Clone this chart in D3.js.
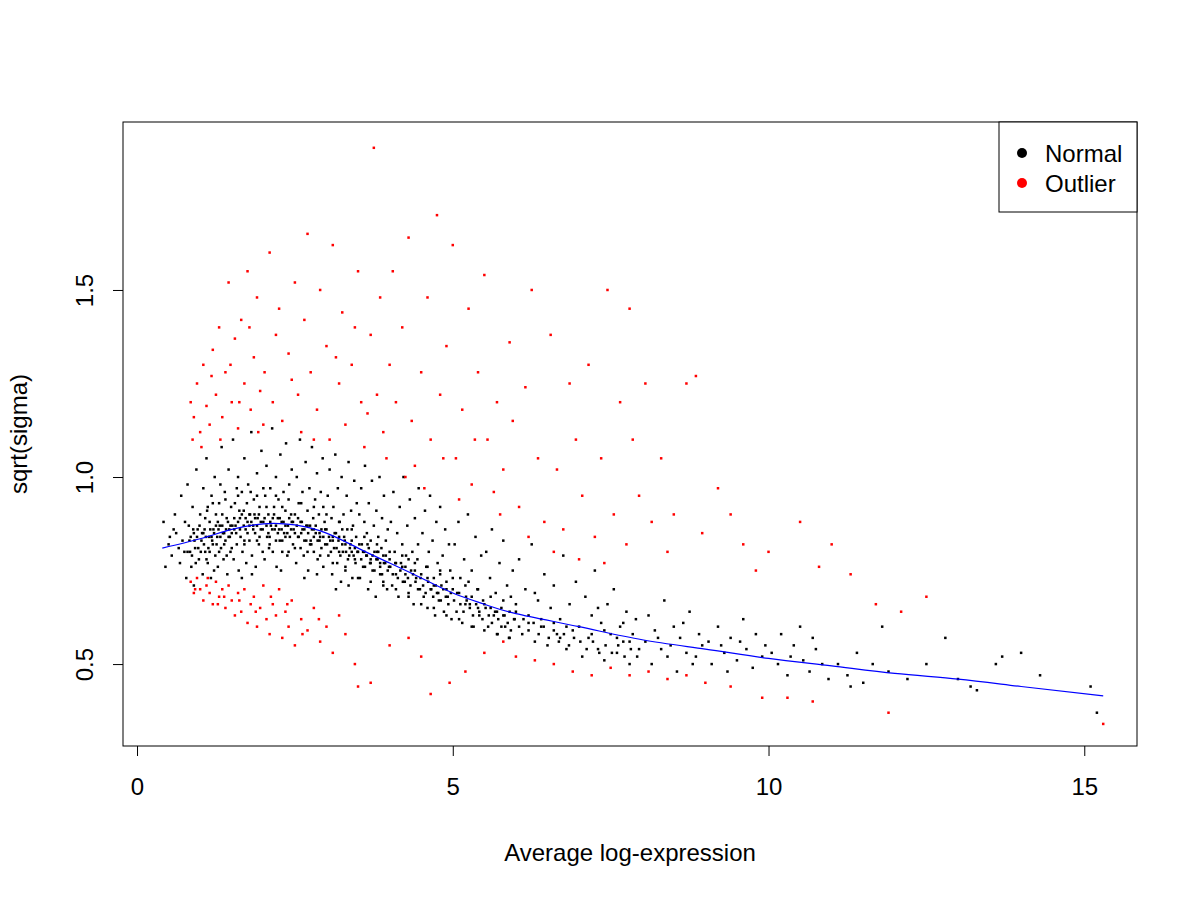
<!DOCTYPE html><html><head><meta charset="utf-8">
<script src="https://cdn.jsdelivr.net/npm/d3@7"></script>
<style>body{margin:0;background:#fff}text{font-family:"Liberation Sans",Arial,sans-serif}</style></head><body>
<svg id="c" width="1200" height="900"></svg>
<script>
const xTicks=[0,5,10,15];
const yTicks=[0.5,1.0,1.5];
const yTickLabels=["0.5","1.0","1.5"];
const legendLabels=["Normal","Outlier"];
const legendColors=["#000","#ff0000"];
const trend=[[0.4,0.81],[1,0.835],[1.5,0.86],[2,0.875],[2.5,0.872],[3,0.85],[3.5,0.81],[4,0.77],[4.5,0.73],[5,0.69],[5.5,0.66],[6,0.635],[7,0.6],[8,0.565],[9,0.54],[10,0.515],[11,0.495],[12,0.475],[13,0.46],[14,0.44],[15.3,0.415]];
const normalStr="0.42 0.88,0.45 0.76,0.5 0.82,0.55 0.79,0.6 0.9,0.62 0.85,0.68 0.77,0.7 0.95,0.72 0.83,0.75 0.8,0.78 0.73,0.8 0.98,0.82 0.87,0.85 0.84,0.86 0.76,0.88 0.92,0.9 0.71,0.92 0.81,0.94 1.02,0.96 0.86,0.98 0.78,1.0 0.9,0.9 0.85,0.84 0.8,0.76 0.88,0.66 0.81,0.58 0.86,0.52 0.84,"+
"1.02 0.83,1.04 0.74,1.05 0.97,1.07 0.86,1.08 0.8,1.1 1.05,1.11 0.91,1.12 0.77,1.14 0.84,1.15 0.88,1.17 0.73,1.18 0.95,1.2 0.82,1.21 0.86,1.23 1.0,1.24 0.79,1.25 0.9,1.27 0.84,1.28 0.76,1.3 0.93,1.31 0.87,1.33 0.81,1.34 1.08,1.36 0.85,1.37 0.78,1.39 0.96,1.4 0.83,1.42 0.89,1.43 0.74,1.45 1.02,1.46 0.86,1.48 0.8,1.49 0.92,1.05 0.85,1.15 0.8,1.25 0.87,1.35 0.9,1.45 0.84,1.12 0.92,1.22 0.75,1.32 0.98,1.42 0.79,1.08 0.89,1.18 0.84,1.28 0.88,1.38 0.82,1.48 0.87,"+
"1.5 0.85,1.52 1.1,1.53 0.78,1.55 0.93,1.56 0.87,1.58 0.82,1.6 1.0,1.61 0.75,1.63 0.89,1.64 0.84,1.66 0.96,1.67 0.8,1.69 0.91,1.7 1.05,1.72 0.86,1.73 0.77,1.75 0.88,1.76 0.98,1.78 0.83,1.79 0.9,1.81 1.12,1.82 0.79,1.84 0.87,1.85 0.94,1.87 0.85,1.88 0.76,1.9 1.01,1.91 0.89,1.93 0.82,1.94 0.92,1.96 0.86,1.97 1.07,1.99 0.8,1.54 0.86,1.62 0.91,1.7 0.83,1.78 0.87,1.86 0.9,1.94 0.84,1.58 0.97,1.74 0.93,1.9 0.95,1.66 0.73,1.82 0.74,"+
"2.0 0.88,2.02 0.78,2.03 0.95,2.05 1.03,2.06 0.84,2.08 0.9,2.09 0.81,2.11 0.97,2.12 0.87,2.14 1.13,2.15 0.8,2.17 0.92,2.18 0.86,2.2 1.0,2.21 0.76,2.23 0.89,2.24 0.94,2.26 0.83,2.27 1.06,2.29 0.88,2.3 0.8,2.32 0.96,2.33 0.85,2.35 0.91,2.36 1.09,2.38 0.79,2.39 0.87,2.41 0.98,2.42 0.84,2.44 0.9,2.45 1.02,2.47 0.82,2.48 0.86,2.05 0.92,2.15 0.89,2.25 0.86,2.35 0.84,2.45 0.88,2.1 0.84,2.3 0.92,2.4 0.8,2.2 0.83,2.28 0.75,"+
"2.5 0.9,2.52 0.77,2.53 1.0,2.55 0.84,2.56 0.93,2.58 1.1,2.59 0.81,2.61 0.88,2.62 0.96,2.64 0.79,2.65 0.86,2.67 1.04,2.68 0.83,2.7 0.91,2.71 0.75,2.73 0.97,2.74 0.87,2.76 0.82,2.77 1.08,2.79 0.89,2.8 0.8,2.82 0.94,2.83 0.85,2.85 1.01,2.86 0.78,2.88 0.9,2.89 0.83,2.91 0.96,2.92 0.86,2.94 1.05,2.95 0.76,2.97 0.88,2.98 0.82,2.6 0.85,2.7 0.87,2.8 0.86,2.9 0.84,2.55 0.89,2.75 0.83,2.95 0.92,2.65 0.73,2.85 0.74,"+
"3.0 0.86,3.02 0.95,3.03 0.79,3.05 1.02,3.06 0.83,3.08 0.89,3.09 0.74,3.11 0.92,3.12 0.81,3.14 1.06,3.15 0.85,3.17 0.77,3.18 0.97,3.2 0.84,3.21 0.88,3.23 0.72,3.24 1.0,3.26 0.8,3.27 0.9,3.29 0.83,3.3 0.76,3.32 0.95,3.33 0.86,3.35 1.04,3.36 0.79,3.38 0.82,3.39 0.91,3.41 0.73,3.42 0.87,3.44 0.99,3.45 0.78,3.47 0.84,3.48 0.93,3.1 0.84,3.2 0.8,3.3 0.82,3.4 0.8,3.25 0.86,3.45 0.81,3.15 0.7,3.35 0.71,"+
"3.5 0.8,3.52 0.9,3.53 0.73,3.55 0.97,3.56 0.82,3.58 0.76,3.6 0.88,3.61 1.03,3.63 0.79,3.64 0.85,3.66 0.7,3.67 0.93,3.69 0.77,3.7 0.83,3.72 0.99,3.73 0.75,3.75 0.87,3.76 0.8,3.78 0.68,3.79 0.91,3.81 0.78,3.82 0.84,3.84 1.0,3.85 0.74,3.87 0.81,3.88 0.89,3.9 0.72,3.91 0.95,3.93 0.77,3.94 0.83,3.96 0.7,3.97 0.86,3.99 0.76,3.6 0.8,3.7 0.78,3.8 0.8,3.9 0.79,3.65 0.82,3.85 0.77,"+
"4.0 0.78,4.02 0.88,4.04 0.71,4.06 0.96,4.08 0.8,4.1 0.74,4.12 0.85,4.14 0.68,4.16 0.92,4.18 0.77,4.2 0.82,4.22 1.0,4.24 0.72,4.26 0.79,4.28 0.87,4.3 0.69,4.32 0.94,4.34 0.75,4.36 0.8,4.38 0.66,4.4 0.89,4.42 0.73,4.44 0.78,4.46 0.97,4.48 0.7,4.1 0.77,4.2 0.76,4.3 0.78,4.4 0.75,4.25 0.74,4.45 0.82,"+
"4.5 0.74,4.52 0.85,4.54 0.68,4.56 0.91,4.58 0.76,4.6 0.65,4.62 0.8,4.64 0.95,4.66 0.7,4.68 0.83,4.7 0.73,4.72 0.63,4.74 0.88,4.76 0.77,4.78 0.67,4.8 0.92,4.82 0.71,4.84 0.79,4.86 0.64,4.88 0.86,4.9 0.72,4.92 0.68,4.94 0.82,4.96 0.75,4.98 0.62,4.6 0.73,4.7 0.71,4.8 0.74,4.9 0.7,4.75 0.69,"+
"5.0 0.7,5.03 0.82,5.06 0.64,5.09 0.88,5.12 0.73,5.15 0.61,5.18 0.78,5.21 0.68,5.24 0.9,5.27 0.66,5.3 0.75,5.33 0.6,5.36 0.84,5.39 0.7,5.42 0.63,5.45 0.79,5.48 0.67,5.1 0.69,5.2 0.66,5.3 0.68,5.4 0.65,5.25 0.72,"+
"5.5 0.66,5.53 0.8,5.56 0.6,5.59 0.73,5.62 0.86,5.65 0.63,5.68 0.69,5.71 0.58,5.74 0.77,5.77 0.65,5.8 0.83,5.83 0.6,5.86 0.71,5.89 0.57,5.92 0.68,5.95 0.75,5.98 0.62,5.6 0.65,5.7 0.64,5.8 0.63,5.9 0.64,"+
"6.0 0.64,6.05 0.78,6.1 0.58,6.15 0.7,6.2 0.61,6.25 0.82,6.3 0.56,6.35 0.67,6.4 0.6,6.45 0.74,6.5 0.55,6.55 0.65,6.6 0.71,6.65 0.58,6.7 0.62,6.75 0.79,6.8 0.54,6.85 0.66,6.9 0.59,6.95 0.72,6.2 0.63,6.4 0.62,6.6 0.61,6.8 0.6,6.3 0.69,6.7 0.57,"+
"7.0 0.6,7.05 0.52,7.1 0.68,7.15 0.57,7.2 0.63,7.25 0.75,7.3 0.54,7.35 0.61,7.4 0.51,7.45 0.66,7.5 0.58,7.55 0.7,7.6 0.53,7.65 0.6,7.7 0.56,7.75 0.64,7.8 0.5,7.85 0.58,7.9 0.62,7.95 0.54,7.2 0.58,7.4 0.59,7.6 0.57,7.8 0.56,7.3 0.65,7.7 0.61,"+
"8.05 0.56,8.1 0.63,8.15 0.5,8.2 0.59,8.3 0.54,8.35 0.67,8.4 0.52,8.5 0.6,8.55 0.48,8.6 0.57,8.7 0.53,8.75 0.64,8.8 0.5,8.9 0.58,8.95 0.55,8.25 0.57,8.45 0.55,8.65 0.61,8.85 0.52,"+
"9.05 0.56,9.1 0.5,9.2 0.6,9.3 0.53,9.35 0.48,9.4 0.57,9.5 0.51,9.6 0.62,9.65 0.54,9.75 0.49,9.8 0.58,9.9 0.52,9.95 0.55,9.25 0.55,9.55 0.56,"+
"10.05 0.53,10.15 0.5,10.2 0.58,10.3 0.47,10.4 0.55,10.5 0.6,10.55 0.51,10.65 0.48,10.75 0.54,10.85 0.5,10.95 0.46,10.35 0.52,10.7 0.57,"+
"11.1 0.5,11.25 0.47,11.4 0.53,11.5 0.45,11.65 0.5,11.8 0.6,11.9 0.48,11.3 0.44,"+
"12.2 0.46,12.5 0.5,12.8 0.57,13.0 0.46,13.2 0.44,13.3 0.43,13.6 0.5,13.7 0.52,14.0 0.53,14.3 0.47,15.1 0.44,15.2 0.37";
const coreStr="0.8 0.8,0.83 0.83,0.87 0.79,0.89 0.86,0.91 0.83,0.93 0.77,0.95 0.84,0.97 0.81,0.99 0.87,1.01 0.8,1.03 0.85,1.06 0.82,1.09 0.84,1.13 0.81,1.16 0.86,1.19 0.83,1.22 0.85,1.26 0.82,1.29 0.86,1.32 0.84,1.35 0.87,1.38 0.85,1.41 0.86,1.44 0.88,1.47 0.84,1.51 0.87,1.54 0.89,1.57 0.85,1.6 0.88,1.63 0.86,1.66 0.9,1.69 0.87,1.72 0.89,1.75 0.85,1.78 0.9,1.81 0.88,1.84 0.86,1.87 0.89,1.9 0.87,1.93 0.9,1.96 0.88,1.99 0.86,"+
"2.02 0.89,2.05 0.87,2.08 0.85,2.11 0.88,2.14 0.86,2.17 0.9,2.2 0.87,2.23 0.85,2.26 0.89,2.29 0.86,2.32 0.88,2.35 0.87,2.38 0.85,2.41 0.89,2.44 0.86,2.47 0.88,2.5 0.85,2.53 0.87,2.56 0.84,2.59 0.88,2.62 0.86,2.65 0.83,2.68 0.87,2.71 0.85,2.74 0.82,2.77 0.86,2.8 0.84,2.83 0.87,2.86 0.83,2.89 0.85,2.92 0.81,2.95 0.84,2.98 0.86,"+
"3.01 0.82,3.04 0.84,3.07 0.8,3.1 0.83,3.13 0.85,3.16 0.81,3.19 0.83,3.22 0.79,3.25 0.82,3.28 0.84,3.31 0.8,3.34 0.78,3.37 0.81,3.4 0.83,3.43 0.79,3.46 0.77,3.49 0.8,3.52 0.82,3.55 0.78,3.58 0.8,3.61 0.76,3.64 0.79,3.67 0.81,3.7 0.77,3.73 0.79,3.76 0.75,3.79 0.78,3.82 0.8,3.85 0.76,3.88 0.74,3.91 0.77,3.94 0.79,3.97 0.75,"+
"4.01 0.76,4.05 0.74,4.09 0.77,4.13 0.73,4.17 0.75,4.21 0.72,4.25 0.76,4.29 0.73,4.33 0.71,4.37 0.74,4.41 0.72,4.45 0.7,4.49 0.73,4.53 0.71,4.57 0.69,4.61 0.72,4.65 0.7,4.69 0.68,4.73 0.71,4.77 0.69,4.81 0.67,4.85 0.7,4.89 0.68,4.93 0.66,4.97 0.69,"+
"5.02 0.67,5.07 0.69,5.12 0.66,5.17 0.64,5.22 0.67,5.27 0.65,5.32 0.63,5.37 0.66,5.42 0.64,5.47 0.62,5.52 0.65,5.57 0.63,5.62 0.61,5.67 0.64,5.72 0.62,5.77 0.6,5.82 0.63,5.87 0.61,5.92 0.59,5.97 0.62,6.05 0.6,6.12 0.62,6.2 0.59,6.28 0.61,6.36 0.58,6.44 0.6,6.52 0.57,6.6 0.59,6.68 0.56,6.76 0.58,6.84 0.55,6.92 0.57,7.02 0.56,7.12 0.54,7.22 0.56,7.32 0.53,7.42 0.55,7.52 0.53,7.62 0.55,7.72 0.52,7.82 0.54,7.92 0.52,"+
"1.1 0.78,1.3 0.8,1.5 0.81,1.7 0.82,1.9 0.83,2.1 0.82,2.3 0.83,2.5 0.81,2.7 0.8,2.9 0.79,3.1 0.77,3.3 0.75,3.5 0.73,3.7 0.72,3.9 0.71,4.1 0.7,4.3 0.68,4.5 0.66,4.7 0.65,4.9 0.63,5.1 0.62,5.3 0.6,5.5 0.59,5.7 0.58,5.9 0.57,"+
"1.2 0.93,1.4 0.94,1.6 0.95,1.8 0.96,2.0 0.97,2.2 0.95,2.4 0.94,2.6 0.93,2.8 0.92,3.0 0.9,3.2 0.88,3.4 0.86,3.6 0.84,3.8 0.82,4.0 0.8,4.2 0.79,4.4 0.77,4.6 0.76,4.8 0.75,5.0 0.73,5.2 0.71,5.4 0.7,5.6 0.68,5.8 0.67,6.0 0.66";
const outlierStr="0.85 1.2,0.9 1.16,0.95 1.25,1.0 1.12,1.05 1.3,1.1 1.19,1.15 1.14,1.2 1.34,1.25 1.22,1.3 1.4,1.35 1.16,1.4 1.28,1.45 1.52,1.5 1.2,1.55 1.37,1.6 1.13,1.65 1.42,1.7 1.25,1.75 1.55,1.8 1.18,1.85 1.32,1.9 1.48,1.95 1.23,2.0 1.14,0.88 1.1,1.02 1.08,1.18 1.27,1.32 1.1,1.48 1.3,1.62 1.2,1.78 1.4,1.92 1.12,2.02 1.28,"+
"2.1 1.6,2.15 1.2,2.25 1.45,2.3 1.15,2.4 1.33,2.5 1.52,2.55 1.22,2.6 1.12,2.65 1.42,2.7 1.65,2.75 1.28,2.85 1.18,2.9 1.5,3.0 1.35,3.05 1.1,3.1 1.62,3.2 1.25,3.25 1.44,3.3 1.14,3.4 1.3,3.5 1.55,3.55 1.2,3.6 1.08,3.7 1.38,3.75 1.88,3.8 1.22,3.85 1.48,3.9 1.12,4.0 1.3,2.2 1.38,2.45 1.26,2.8 1.1,3.15 1.32,3.45 1.4,3.65 1.17,3.95 1.05,"+
"4.05 1.55,4.1 1.2,4.2 1.4,4.3 1.64,4.35 1.15,4.4 1.03,4.5 1.28,4.6 1.48,4.65 1.1,4.75 1.7,4.8 1.22,4.9 1.35,5.0 1.62,5.05 1.05,5.15 1.18,5.25 1.45,5.3 0.98,5.4 1.28,5.5 1.54,5.55 1.1,5.65 0.96,5.7 1.2,5.8 1.02,5.9 1.36,4.25 1.0,4.55 0.97,4.85 1.05,5.1 0.94,5.35 1.1,5.75 0.9,5.95 1.15,"+
"6.05 0.92,6.15 1.24,6.25 1.5,6.35 1.05,6.45 0.88,6.55 1.38,6.65 1.02,6.75 0.86,6.85 1.25,6.95 1.1,7.05 0.95,7.15 1.3,7.25 0.84,7.35 1.05,7.45 1.5,7.55 0.9,7.65 1.2,7.75 0.82,7.85 1.1,7.95 0.95,8.05 1.25,8.15 0.88,8.3 1.05,8.5 0.9,8.7 1.25,8.85 1.27,8.95 0.85,6.2 0.84,6.6 0.8,7.0 0.78,7.4 0.77,7.8 1.45,8.4 0.8,"+
"9.2 0.97,9.4 0.9,9.6 0.82,10.0 0.8,10.5 0.88,10.8 0.76,11.0 0.82,11.3 0.74,11.7 0.66,12.1 0.64,12.5 0.68,9.8 0.75,"+
"0.85 0.72,0.9 0.69,0.95 0.73,1.0 0.7,1.05 0.67,1.1 0.71,1.15 0.69,1.2 0.66,1.25 0.72,1.3 0.68,1.35 0.7,1.4 0.65,1.45 0.71,1.5 0.67,1.55 0.63,1.6 0.69,1.65 0.64,1.7 0.7,1.75 0.61,1.8 0.66,1.85 0.68,1.9 0.6,1.95 0.65,2.0 0.71,2.05 0.62,2.1 0.58,2.15 0.66,2.2 0.63,2.25 0.7,2.3 0.57,2.35 0.64,2.4 0.6,2.45 0.67,2.5 0.55,2.6 0.62,2.7 0.59,2.8 0.65,2.9 0.56,3.0 0.6,3.1 0.53,3.2 0.63,3.3 0.58,3.45 0.5,3.5 0.44,3.7 0.45,1.12 0.73,1.38 0.68,1.62 0.67,1.88 0.64,2.12 0.68,2.38 0.66,2.62 0.58,2.88 0.62,0.92 0.7,1.28 0.66,"+
"4.0 0.55,4.3 0.57,4.65 0.42,4.95 0.45,4.5 0.52,5.5 0.53,5.8 0.56,6.0 0.52,6.3 0.51,6.6 0.5,6.9 0.48,7.2 0.47,7.5 0.49,7.8 0.47,8.1 0.48,8.4 0.46,8.7 0.47,9.0 0.45,9.4 0.44,9.9 0.41,10.3 0.41,10.7 0.4,11.9 0.37,15.3 0.34,5.2 0.48";
const parse=s=>s.split(",").map(p=>p.trim().split(" ").map(Number));
const normal=parse(normalStr).concat(parse(coreStr)), outlier=parse(outlierStr);

const svg=d3.select("#c");
const L=123,R=1137,T=122,B=746;
const x=d3.scaleLinear().domain([-0.222,15.835]).range([L,R]);
const y=d3.scaleLinear().domain([0.281,1.949]).range([B,T]);
const g=svg.append("g");
g.selectAll(".n").data(normal).enter().append("rect").attr("x",d=>x(d[0])-1.25).attr("y",d=>y(d[1])-1.25).attr("width",2.5).attr("height",2.5).attr("fill","#000");
g.selectAll(".o").data(outlier).enter().append("rect").attr("x",d=>x(d[0])-1.25).attr("y",d=>y(d[1])-1.25).attr("width",2.5).attr("height",2.5).attr("fill","#ff0000");
svg.append("path").datum(trend).attr("fill","none").attr("stroke","#0000ff").attr("stroke-width",1.2)
 .attr("d",d3.line().x(d=>x(d[0])).y(d=>y(d[1])).curve(d3.curveNatural));
svg.append("rect").attr("x",L).attr("y",T).attr("width",R-L).attr("height",B-T).attr("fill","none").attr("stroke","#000");
const xa=svg.append("g").attr("transform",`translate(0,${B})`).call(d3.axisBottom(x).tickValues(xTicks).tickSize(10).tickPadding(22).tickSizeOuter(0));
xa.select(".domain").remove();
xa.selectAll("text").attr("font-size",24).attr("font-family","Liberation Sans, Arial").attr("fill","#000");
const ya=svg.append("g").attr("transform",`translate(${L},0)`).call(d3.axisLeft(y).tickValues(yTicks).tickFormat((d,i)=>yTickLabels[i]).tickSize(10).tickSizeOuter(0));
ya.select(".domain").remove();
ya.selectAll("text").attr("font-size",24).attr("font-family","Liberation Sans, Arial").attr("fill","#000")
 .attr("text-anchor","middle").attr("x",0).attr("dy",0).attr("transform","translate(-30,0) rotate(-90)");
svg.append("text").attr("x",630).attr("y",861).attr("text-anchor","middle").attr("font-size",24).text("Average log-expression");
svg.append("text").attr("transform","translate(27,434) rotate(-90)").attr("text-anchor","middle").attr("font-size",24).text("sqrt(sigma)");
const lg=svg.append("g");
lg.append("rect").attr("x",999).attr("y",T).attr("width",R-999).attr("height",90).attr("fill","#fff").attr("stroke","#000");
legendLabels.forEach((t,i)=>{
 lg.append("circle").attr("cx",1022).attr("cy",153+i*30).attr("r",5).attr("fill",legendColors[i]);
 lg.append("text").attr("x",1045).attr("y",162+i*30).attr("font-size",24).text(t);
});
</script></body></html>
